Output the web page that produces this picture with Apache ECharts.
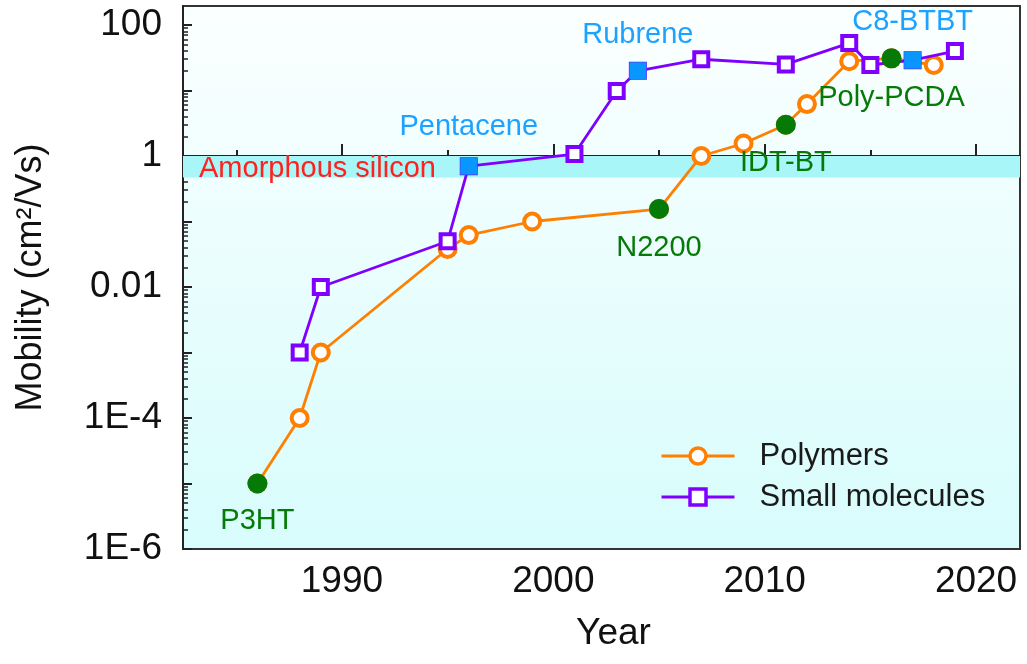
<!DOCTYPE html>
<html>
<head>
<meta charset="utf-8">
<script src="https://cdn.jsdelivr.net/npm/echarts@6/dist/echarts.min.js"></script>
<style>
  html, body { margin: 0; padding: 0; background: #ffffff; }
  #chart { width: 1027px; height: 664px; }
</style>
</head>
<body>
<div id="chart"></div>
<script>
// Field-effect mobility records by year (cm^2/Vs)
const polyYears    = [1986, 1988, 1989, 1995, 1996, 1999, 2005, 2007, 2009, 2011, 2012, 2014, 2016, 2018];
const polyMobility = [1e-5, 1e-4, 1e-3, 0.038, 0.062, 0.1, 0.155, 1.0, 1.55, 3.0, 6.2, 28, 31, 24.5];
const polyNotes    = ['P3HT', '', '', '', '', '', 'N2200', '', '', 'IDT-BT', '', '', 'Poly-PCDA', ''];

const smallYears    = [1988, 1989, 1995, 1996, 2001, 2003, 2004, 2007, 2011, 2014, 2015, 2017, 2019];
const smallMobility = [1e-3, 0.01, 0.05, 0.7, 1.07, 9.8, 20, 30, 25, 53, 24.5, 29, 40];
const smallNotes    = ['', '', '', 'Pentacene', '', '', 'Rubrene', '', '', '', '', 'C8-BTBT', ''];

// Amorphous silicon reference band
const siliconBand = [0.47, 1];
const siliconLabel = 'Amorphous silicon';

const seriesNames = ['Polymers', 'Small molecules'];
const xTickLabels = ['1990', '2000', '2010', '2020'];
const xMinorTicks = [1985, 1995, 2005, 2015];
const yTickLabels = ['1E-6', '1E-4', '0.01', '1', '100'];
const yTickValues = [1e-6, 1e-4, 1e-2, 1, 100];

const ORANGE = '#ff7f00';
const PURPLE = '#7f00ff';
const GREEN  = '#067a06';
const BLUE   = '#0a96ff';
const BLUE_TEXT = '#1ea2ff';

const lg = v => Math.log10(v);

// log-decade tick positions on the exponent axis
const yMin = -6, yMax = 2.29;
const decadeTicks = [];
for (let n = -6; n <= 2; n++) decadeTicks.push(n);
const minorTicks = [];
for (let n = -6; n <= 2; n++) {
  for (let k = 2; k <= 9; k++) {
    const v = n + Math.log10(k);
    if (v < yMax) minorTicks.push(v);
  }
}
const yLabelMap = {};
yTickValues.forEach((v, i) => { yLabelMap[Math.round(lg(v))] = yTickLabels[i]; });

// label placement for annotated materials
const noteStyle = {
  'P3HT':      { color: GREEN, dy: 38 },
  'N2200':     { color: GREEN, dy: 39 },
  'IDT-BT':    { color: GREEN, dy: 38 },
  'Poly-PCDA': { color: GREEN, dy: 40 },
  'Pentacene': { color: BLUE_TEXT, dy: -39 },
  'Rubrene':   { color: BLUE_TEXT, dy: -36 },
  'C8-BTBT':   { color: BLUE_TEXT, dy: -38 }
};

const FONT = 'Liberation Sans, Arial, Helvetica, sans-serif';

const polyData  = polyYears.map((y, i) => [y, lg(polyMobility[i])]);
const smallData = smallYears.map((y, i) => [y, lg(smallMobility[i])]);

function noteItems(years, values, notes, symbol, color, size) {
  const out = [];
  notes.forEach((name, i) => {
    if (!name) return;
    const st = noteStyle[name];
    out.push({
      value: [years[i], lg(values[i])],
      symbol: symbol,
      symbolSize: size,
      itemStyle: { color: color, opacity: 1 },
      label: {
        show: true,
        formatter: name,
        position: 'inside',
        offset: [0, st.dy],
        color: st.color,
        fontSize: 29,
        fontFamily: FONT
      }
    });
  });
  return out;
}

const chart = echarts.init(document.getElementById('chart'), null, { renderer: 'canvas' });

const xMin = 1982.48, xMax = 2022.08;

chart.setOption({
  animation: false,
  backgroundColor: '#ffffff',
  grid: {
    left: 183, right: 7, top: 6, bottom: 115,
    show: true,
    borderColor: '#333',
    borderWidth: 2,
    backgroundColor: new echarts.graphic.LinearGradient(0, 0, 0, 1, [
      { offset: 0, color: '#fbffff' },
      { offset: 1, color: '#d8fcfc' }
    ])
  },
  legend: {
    orient: 'vertical',
    left: 655,
    top: 432,
    itemWidth: 73,
    itemHeight: 20,
    itemGap: 3,
    data: seriesNames,
    lineStyle: { width: 3 },
    itemStyle: { borderWidth: 3.5 },
    textStyle: {
      fontSize: 31, fontFamily: FONT, color: '#1a1a1a',
      lineHeight: 38, padding: [0, 0, 0, 20]
    }
  },
  xAxis: [
    {
      type: 'value', min: xMin, max: xMax,
      name: 'Year', nameLocation: 'middle', nameGap: 66,
      nameTextStyle: { fontSize: 37, fontFamily: FONT, color: '#111', padding: [0, 0, 0, 24] },
      axisLine: { show: true, lineStyle: { color: '#222', width: 2 } },
      axisTick: { show: true, inside: true, length: 12, customValues: xTickLabels.map(Number),
                  lineStyle: { color: '#222', width: 2 } },
      axisLabel: { show: true, customValues: xTickLabels.map(Number), margin: 14,
                   fontSize: 37, fontFamily: FONT, color: '#111',
                   formatter: v => String(Math.round(v)) },
      splitLine: { show: false }
    },
    {
      type: 'value', min: xMin, max: xMax, position: 'bottom',
      axisLine: { show: false },
      axisTick: { show: true, inside: true, length: 6, customValues: xMinorTicks,
                  lineStyle: { color: '#222', width: 2 } },
      axisLabel: { show: false },
      splitLine: { show: false }
    }
  ],
  yAxis: [
    {
      type: 'value', min: yMin, max: yMax,
      name: 'Mobility (cm\u00b2/Vs)', nameLocation: 'middle', nameGap: 134,
      nameTextStyle: { fontSize: 36, fontFamily: FONT, color: '#111' },
      axisLine: { show: true, lineStyle: { color: '#222', width: 2 } },
      axisTick: { show: true, inside: true, length: 9, customValues: decadeTicks,
                  lineStyle: { color: '#222', width: 2 } },
      axisLabel: { show: true, customValues: yTickValues.map(lg), margin: 21,
                   fontSize: 37, fontFamily: FONT, color: '#111',
                   formatter: v => yLabelMap[Math.round(v)] || '' },
      splitLine: { show: false }
    },
    {
      type: 'value', min: yMin, max: yMax, position: 'left',
      axisLine: { show: false },
      axisTick: { show: true, inside: true, length: 5, customValues: minorTicks,
                  lineStyle: { color: '#222', width: 1.5 } },
      axisLabel: { show: false },
      splitLine: { show: false }
    }
  ],
  series: [
    {
      name: seriesNames[0],
      type: 'line',
      data: polyData,
      z: 2,
      symbol: 'circle',
      symbolSize: 16,
      showAllSymbol: true,
      lineStyle: { color: ORANGE, width: 2.8 },
      itemStyle: { color: '#ffffff', borderColor: ORANGE, borderWidth: 4 },
      emphasis: { disabled: true },
      markArea: {
        silent: true,
        itemStyle: { color: '#a8f6f8' },
        label: {
          show: true, position: 'insideLeft', distance: 16,
          color: '#ff2020', fontSize: 29, fontFamily: FONT,
          offset: [0, 2]
        },
        data: [[
          { name: siliconLabel, xAxis: xMin, yAxis: lg(siliconBand[0]) },
          { xAxis: xMax, yAxis: lg(siliconBand[1]) }
        ]]
      }
    },
    {
      name: seriesNames[1],
      type: 'line',
      data: smallData,
      z: 3,
      symbol: 'rect',
      symbolSize: 14,
      showAllSymbol: true,
      lineStyle: { color: PURPLE, width: 2.8 },
      itemStyle: { color: '#ffffff', borderColor: PURPLE, borderWidth: 4 },
      emphasis: { disabled: true }
    },
    {
      name: 'notes',
      type: 'scatter',
      z: 4,
      silent: true,
      itemStyle: { opacity: 1 },
      emphasis: { disabled: true },
      data: noteItems(polyYears, polyMobility, polyNotes, 'circle', GREEN, 20)
        .concat(noteItems(smallYears, smallMobility, smallNotes, 'rect', BLUE, 17))
    }
  ]
});
</script>
</body>
</html>
